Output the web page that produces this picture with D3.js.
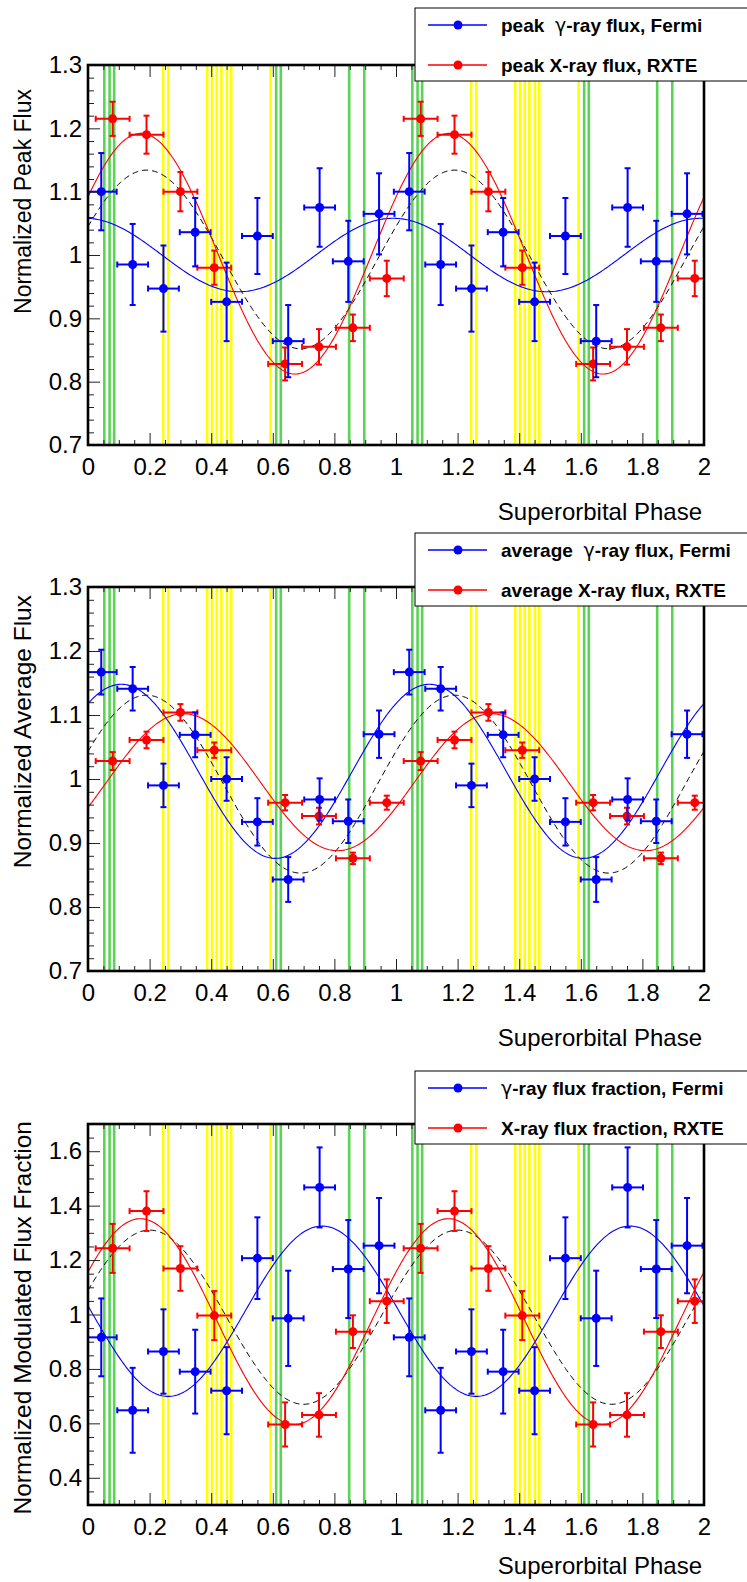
<!DOCTYPE html>
<html>
<head>
<meta charset="utf-8">
<script src="https://cdn.jsdelivr.net/npm/d3@7"></script>
<style>
  body { margin: 0; background: #fff; }
  svg { display: block; }
  text { font-family: "Liberation Sans", Arial, Helvetica, sans-serif; fill: #000; }
</style>
</head>
<body>
<div id="chart"></div>
<script>
// ---------- data ----------
// bin centres (one superorbital cycle; drawn twice)
const gammaPhase = [0.043, 0.145, 0.245, 0.348, 0.45, 0.55, 0.65, 0.752, 0.845, 0.945];
const xrayPhase  = [0.08, 0.19, 0.30, 0.41, 0.64, 0.75, 0.86, 0.97];
const gammaPhaseErr = 0.05;
const xrayPhaseErr  = 0.055;

// peak flux
const gammaPeak    = [1.100, 0.985, 0.947, 1.036, 0.926, 1.030, 0.864, 1.075, 0.990, 1.065];
const gammaPeakErr = [0.061, 0.064, 0.068, 0.054, 0.062, 0.060, 0.057, 0.062, 0.064, 0.064];
const xrayPeak     = [1.215, 1.190, 1.100, 0.980, 0.828, 0.855, 0.885, 0.963];
const xrayPeakErr  = [0.027, 0.030, 0.031, 0.027, 0.026, 0.028, 0.021, 0.028];

// average flux
const gammaAvg    = [1.167, 1.141, 0.990, 1.069, 1.000, 0.933, 0.843, 0.968, 0.934, 1.070];
const gammaAvgErr = [0.035, 0.034, 0.034, 0.035, 0.034, 0.037, 0.035, 0.033, 0.034, 0.037];
const xrayAvg     = [1.028, 1.061, 1.104, 1.045, 0.963, 0.942, 0.876, 0.963];
const xrayAvgErr  = [0.014, 0.013, 0.013, 0.012, 0.012, 0.013, 0.009, 0.011];

// modulated flux fraction
const gammaFrac    = [0.916, 0.648, 0.864, 0.790, 0.720, 1.207, 0.986, 1.467, 1.167, 1.253];
const gammaFracErr = [0.143, 0.156, 0.155, 0.154, 0.160, 0.150, 0.175, 0.147, 0.180, 0.175];
const xrayFrac     = [1.243, 1.380, 1.169, 0.996, 0.596, 0.631, 0.937, 1.049];
const xrayFracErr  = [0.090, 0.073, 0.082, 0.090, 0.081, 0.080, 0.060, 0.080];

// sine fits: [mean, amplitude, phase of maximum]
const gammaPeakFit = [1.000, 0.058, 0.990];
const xrayPeakFit  = [1.002, 0.190, 0.172];
const refPeakFit   = [0.993, 0.141, 0.190];
const gammaAvgFit  = [1.012, 0.136, 0.108];
const xrayAvgFit   = [0.995, 0.107, 0.310];
const refAvgFit    = [0.992, 0.139, 0.190];
const gammaFracFit = [1.012, 0.313, 0.760];
const xrayFracFit  = [0.974, 0.378, 0.170];
const refFracFit   = [0.990, 0.320, 0.200];

// marked orbital epochs (phase within one cycle)
const greenEpochs  = [0.053, 0.070, 0.085, 0.611, 0.626, 0.848, 0.897];
const yellowEpochs = [0.244, 0.261, 0.387, 0.403, 0.418, 0.433, 0.451, 0.465, 0.593];

// axis ticks
const xMajorTicks = [0, 0.2, 0.4, 0.6, 0.8, 1, 1.2, 1.4, 1.6, 1.8, 2];
const fluxTicks   = [0.7, 0.8, 0.9, 1.0, 1.1, 1.2, 1.3];
const fracTicks   = [0.4, 0.6, 0.8, 1.0, 1.2, 1.4, 1.6];

const yTitles = ["Normalized Peak Flux", "Normalized Average Flux", "Normalized Modulated Flux Fraction"];
const legendGamma = [["peak\u00a0\u00a0", "γ", "-ray flux, Fermi"], ["average\u00a0\u00a0", "γ", "-ray flux, Fermi"], ["", "γ", "-ray flux fraction, Fermi"]];
const legendXray  = ["peak X-ray flux, RXTE", "average X-ray flux, RXTE", "X-ray flux fraction, RXTE"];

// ---------- layout ----------
const W = 747, H = 1582;
const LEFT = 88, RIGHT = 704;
const panelTop     = [65, 587, 1124];
const panelHeight  = [380, 384, 381];
const yTitleSize   = [23, 24.5, 24.5];
const yTitleEnd    = [24, 8, -3];
const xTitleOffset = [75, 75, 69];
const legendOffset = [-57, -54, -53];
const BLUE = "#0000ff", RED = "#ff0000", GREEN = "#59d454", YELLOW = "#ffff00";

const svg = d3.select("#chart").append("svg").attr("width", W).attr("height", H);

const panels = [
  { yDomain: [0.7, 1.3], ticks: fluxTicks, minorStep: 0.02,
    gamma: gammaPeak, gammaErr: gammaPeakErr, xray: xrayPeak, xrayErr: xrayPeakErr,
    fits: [gammaPeakFit, xrayPeakFit, refPeakFit] },
  { yDomain: [0.7, 1.3], ticks: fluxTicks, minorStep: 0.02,
    gamma: gammaAvg, gammaErr: gammaAvgErr, xray: xrayAvg, xrayErr: xrayAvgErr,
    fits: [gammaAvgFit, xrayAvgFit, refAvgFit] },
  { yDomain: [0.3, 1.7], ticks: fracTicks, minorStep: 0.05,
    gamma: gammaFrac, gammaErr: gammaFracErr, xray: xrayFrac, xrayErr: xrayFracErr,
    fits: [gammaFracFit, xrayFracFit, refFracFit] }
];

const fmt = v => d3.format("~g")(+v.toFixed(2));
const range = (a, b, s) => d3.range(Math.round(a / s), Math.round(b / s) + 1).map(k => +(k * s).toFixed(4));

panels.forEach((p, i) => {
  const top = panelTop[i];
  const PH = panelHeight[i];
  const bottom = top + PH;
  const x = d3.scaleLinear().domain([0, 2]).range([LEFT, RIGHT]);
  const y = d3.scaleLinear().domain(p.yDomain).range([bottom, top]);
  const g = svg.append("g");

  const clipId = "clip" + i;
  svg.append("clipPath").attr("id", clipId)
    .append("rect").attr("x", LEFT).attr("y", top).attr("width", RIGHT - LEFT).attr("height", PH);
  const plot = g.append("g").attr("clip-path", `url(#${clipId})`);

  // epoch markers, repeated in both cycles
  const epochs = [];
  [0, 1].forEach(c => {
    greenEpochs.forEach(e => epochs.push({ v: e + c, col: GREEN }));
    yellowEpochs.forEach(e => epochs.push({ v: e + c, col: YELLOW }));
  });
  plot.selectAll("line.epoch").data(epochs).join("line")
    .attr("class", "epoch")
    .attr("x1", d => x(d.v)).attr("x2", d => x(d.v))
    .attr("y1", top).attr("y2", bottom)
    .attr("stroke", d => d.col).attr("stroke-width", 2.6);

  // fit curves
  const samples = d3.range(0, 2.0001, 0.005);
  const curve = f => samples.map(t => [t, f[0] + f[1] * Math.cos(2 * Math.PI * (t - f[2]))]);
  const line = d3.line().x(d => x(d[0])).y(d => y(d[1]));
  plot.append("path").attr("d", line(curve(p.fits[2])))
    .attr("fill", "none").attr("stroke", "#000").attr("stroke-width", 1).attr("stroke-dasharray", "6,4");
  plot.append("path").attr("d", line(curve(p.fits[0])))
    .attr("fill", "none").attr("stroke", BLUE).attr("stroke-width", 1.1);
  plot.append("path").attr("d", line(curve(p.fits[1])))
    .attr("fill", "none").attr("stroke", RED).attr("stroke-width", 1.1);

  // data points with error bars
  function drawSeries(phases, vals, errs, xerr, col) {
    const pts = [];
    [0, 1].forEach(c => phases.forEach((ph, k) => pts.push({ px: ph + c, v: vals[k], e: errs[k] })));
    const s = plot.append("g").attr("stroke", col).attr("fill", col);
    const cap = 3;
    pts.forEach(d => {
      const cx = x(d.px), cy = y(d.v);
      const x0 = x(d.px - xerr), x1 = x(d.px + xerr);
      const y0 = y(d.v - d.e), y1 = y(d.v + d.e);
      s.append("line").attr("x1", x0).attr("x2", x1).attr("y1", cy).attr("y2", cy).attr("stroke-width", 2);
      s.append("line").attr("x1", cx).attr("x2", cx).attr("y1", y0).attr("y2", y1).attr("stroke-width", 2);
      s.append("line").attr("x1", x0).attr("x2", x0).attr("y1", cy - cap).attr("y2", cy + cap).attr("stroke-width", 2);
      s.append("line").attr("x1", x1).attr("x2", x1).attr("y1", cy - cap).attr("y2", cy + cap).attr("stroke-width", 2);
      s.append("line").attr("x1", cx - cap).attr("x2", cx + cap).attr("y1", y0).attr("y2", y0).attr("stroke-width", 2);
      s.append("line").attr("x1", cx - cap).attr("x2", cx + cap).attr("y1", y1).attr("y2", y1).attr("stroke-width", 2);
      s.append("circle").attr("cx", cx).attr("cy", cy).attr("r", 4.5).attr("stroke", "none");
    });
  }
  drawSeries(xrayPhase, p.xray, p.xrayErr, xrayPhaseErr, RED);
  drawSeries(gammaPhase, p.gamma, p.gammaErr, gammaPhaseErr, BLUE);

  // axes
  const xMinor = range(0, 2, 0.05).filter(v => !xMajorTicks.some(m => Math.abs(m - v) < 1e-6));
  const yMinor = range(p.yDomain[0], p.yDomain[1], p.minorStep).filter(v => !p.ticks.some(m => Math.abs(m - v) < 1e-6));

  const styleAxis = sel => {
    sel.select(".domain").remove();
    sel.selectAll(".tick line").attr("stroke", "#222").attr("stroke-width", 1);
    sel.selectAll("text").style("font-size", "24px").style("font-family", "'Liberation Sans', Arial, sans-serif").attr("fill", "#000");
  };

  g.append("g").attr("transform", `translate(0,${bottom})`)
    .call(d3.axisBottom(x).tickValues(xMajorTicks).tickFormat(fmt).tickSize(-12).tickPadding(13))
    .call(styleAxis);
  g.append("g").attr("transform", `translate(0,${bottom})`)
    .call(d3.axisBottom(x).tickValues(xMinor).tickFormat("").tickSize(-5))
    .call(styleAxis);
  g.append("g").attr("transform", `translate(0,${top})`)
    .call(d3.axisTop(x).tickValues(xMajorTicks).tickFormat("").tickSize(-12))
    .call(styleAxis);
  g.append("g").attr("transform", `translate(0,${top})`)
    .call(d3.axisTop(x).tickValues(xMinor).tickFormat("").tickSize(-5))
    .call(styleAxis);
  g.append("g").attr("transform", `translate(${LEFT},0)`)
    .call(d3.axisLeft(y).tickValues(p.ticks).tickFormat(fmt).tickSize(-12).tickPadding(6))
    .call(styleAxis);
  g.append("g").attr("transform", `translate(${LEFT},0)`)
    .call(d3.axisLeft(y).tickValues(yMinor).tickFormat("").tickSize(-6))
    .call(styleAxis);

  // frame
  g.append("rect").attr("x", LEFT).attr("y", top).attr("width", RIGHT - LEFT).attr("height", PH)
    .attr("fill", "none").attr("stroke", "#000").attr("stroke-width", 2.6);

  // axis titles
  g.append("text").attr("x", RIGHT - 2).attr("y", bottom + xTitleOffset[i])
    .attr("text-anchor", "end").style("font-size", "24px").text("Superorbital Phase");
  g.append("text").attr("transform", `translate(31,${top + yTitleEnd[i]}) rotate(-90)`)
    .attr("text-anchor", "end").style("font-size", yTitleSize[i] + "px").text(yTitles[i]);

  // legend
  const lg = g.append("g").attr("transform", `translate(415,${top + legendOffset[i]})`);
  lg.append("rect").attr("x", 0).attr("y", 0).attr("width", 340).attr("height", 73)
    .attr("fill", "#fff").attr("stroke", "#000").attr("stroke-width", 1);
  [[BLUE, 17], [RED, 57]].forEach(([col, ry], k) => {
    lg.append("line").attr("x1", 13).attr("x2", 72).attr("y1", ry).attr("y2", ry)
      .attr("stroke", col).attr("stroke-width", 1.5);
    lg.append("circle").attr("cx", 43).attr("cy", ry).attr("r", 4.5).attr("fill", col);
    const t = lg.append("text").attr("x", 86).attr("y", ry + 7)
      .style("font-size", "19px").style("font-weight", "bold");
    if (k === 0) {
      const parts = legendGamma[i];
      if (parts[0]) t.append("tspan").text(parts[0]);
      t.append("tspan").style("font-weight", "normal").style("font-family", "'DejaVu Sans', sans-serif").text(parts[1]);
      t.append("tspan").text(parts[2]);
    } else {
      t.text(legendXray[i]);
    }
  });
});
</script>
</body>
</html>
